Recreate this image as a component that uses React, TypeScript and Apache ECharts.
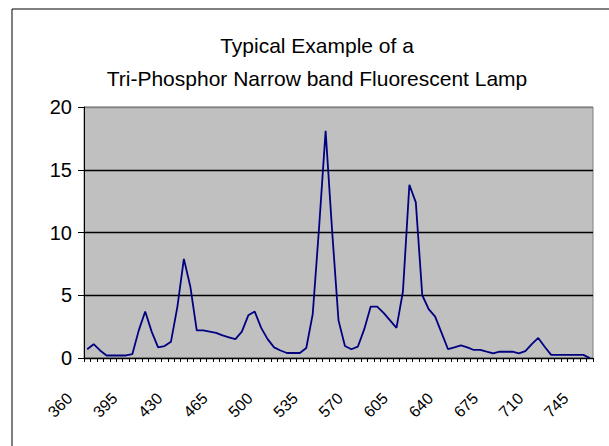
import React, { useEffect, useRef } from 'react';
import * as echarts from 'echarts';

const titleLines = ['Typical Example of a', 'Tri-Phosphor Narrow band Fluorescent Lamp'];

const wavelengths = [
  '360', '365', '370', '375', '380', '385', '390', '395', '400', '405',
  '410', '415', '420', '425', '430', '435', '440', '445', '450', '455',
  '460', '465', '470', '475', '480', '485', '490', '495', '500', '505',
  '510', '515', '520', '525', '530', '535', '540', '545', '550', '555',
  '560', '565', '570', '575', '580', '585', '590', '595', '600', '605',
  '610', '615', '620', '625', '630', '635', '640', '645', '650', '655',
  '660', '665', '670', '675', '680', '685', '690', '695', '700', '705',
  '710', '715', '720', '725', '730', '735', '740', '745', '750',
];

const intensity = [
  0.7, 1.1, 0.6, 0.2, 0.2, 0.2, 0.2, 0.3, 2.2, 3.7,
  2.1, 0.85, 0.95, 1.3, 4.1, 7.9, 5.7, 2.2, 2.2, 2.1,
  2.0, 1.8, 1.65, 1.5, 2.1, 3.4, 3.7, 2.4, 1.5, 0.85,
  0.6, 0.4, 0.4, 0.4, 0.8, 3.5, 10.5, 18.1, 10.2, 3.0,
  0.96, 0.7, 0.9, 2.3, 4.1, 4.1, 3.6, 3.0, 2.4, 5.3,
  13.8, 12.4, 5.0, 3.9, 3.3, 2.0, 0.7, 0.85, 1.0, 0.85,
  0.64, 0.64, 0.5, 0.37, 0.5, 0.5, 0.5, 0.37, 0.55, 1.1,
  1.6, 0.9, 0.25, 0.25, 0.25, 0.25, 0.25, 0.25, 0.0,
];

const yMin = 0;
const yMax = 20;
const yStep = 5;

export default function App() {
  const ref = useRef<HTMLDivElement>(null);
  useEffect(() => {
    const chart = echarts.init(ref.current!, null, { renderer: 'svg' });
    chart.setOption({
      animation: false,
      backgroundColor: '#ffffff',
      title: {
        text: titleLines.join('\n'),
        left: 312,
        top: 24,
        textAlign: 'center',
        textStyle: {
          fontFamily: 'Liberation Sans',
          fontSize: 21,
          fontWeight: 'normal',
          color: '#000',
          lineHeight: 33,
        },
      },
      graphic: [
        {
          type: 'rect',
          silent: true,
          shape: { x: 12, y: 9, width: 640, height: 480 },
          style: { fill: 'none', stroke: '#000', lineWidth: 1 },
        },
      ],
      grid: {
        left: 84,
        right: 16,
        top: 107,
        bottom: 88,
        show: true,
        backgroundColor: '#c0c0c0',
        borderColor: '#808080',
        borderWidth: 1,
      },
      xAxis: {
        type: 'category',
        data: wavelengths,
        boundaryGap: true,
        axisLine: { lineStyle: { color: '#000', width: 1 } },
        axisTick: { show: true, interval: 0, length: 4, lineStyle: { color: '#000' } },
        axisLabel: {
          interval: 6,
          rotate: 45,
          margin: 20,
          padding: [0, 25, 0, 0],
          fontSize: 16,
          color: '#000',
          fontFamily: 'Liberation Sans',
        },
        splitLine: { show: false },
      },
      yAxis: {
        type: 'value',
        min: yMin,
        max: yMax,
        interval: yStep,
        axisLine: { show: true, lineStyle: { color: '#000' } },
        axisTick: { show: true, length: 6, lineStyle: { color: '#000' } },
        axisLabel: { margin: 12, fontSize: 20, color: '#000', fontFamily: 'Liberation Sans' },
        splitLine: {
          show: true,
          lineStyle: { color: ['#000', '#000', '#000', '#000', '#808080'], width: 1.3 },
        },
      },
      series: [
        {
          type: 'line',
          data: intensity,
          symbol: 'none',
          silent: true,
          lineStyle: { color: '#000080', width: 1.8 },
        },
      ],
    });
    return () => chart.dispose();
  }, []);
  return <div ref={ref} style={{ position: 'fixed', left: 0, top: 0, width: 609, height: 446 }} />;
}
